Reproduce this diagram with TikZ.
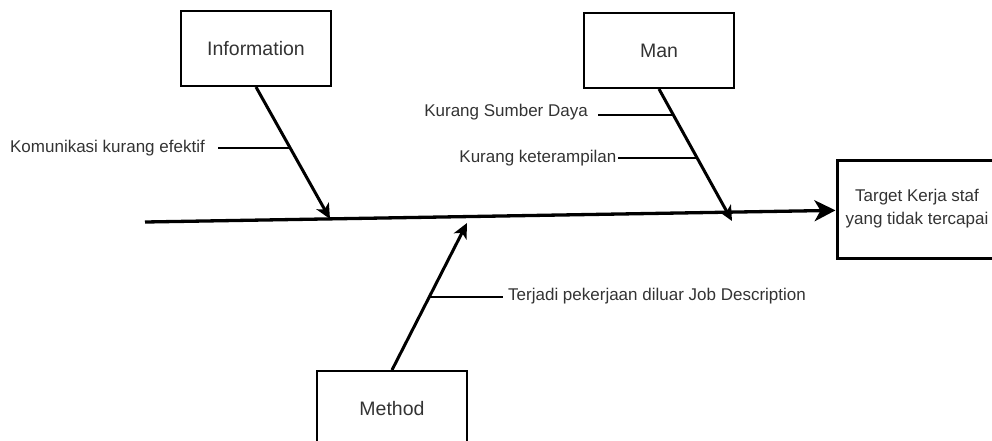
\documentclass[tikz,border=0pt]{standalone}
\usepackage{fontspec}
\setmainfont{Liberation Sans}
\usepackage{tikz}
\usetikzlibrary{positioning}
\usetikzlibrary{arrows.meta}
\definecolor{ink}{HTML}{333333}

\begin{document}
\begin{tikzpicture}[x=1pt,y=-1pt,
  bone/.style={draw,line width=2pt,minimum width=150pt,minimum height=75pt,
    inner sep=0pt,text=ink,font=\fontsize{19.5}{23}\selectfont},
  lbl/.style={inner ysep=0pt,inner xsep=5pt,text=ink,font=\fontsize{17}{20}\selectfont},
  spine/.style={line width=3.3pt,-{Stealth[length=21pt,width=21pt,inset=6pt]}},
  cause/.style={line width=3pt,-{Stealth[length=15pt,width=14pt,inset=4pt]}},
  twig/.style={line width=1.6pt}]
\clip (0,0) rectangle (992,440);
\node[bone] (info) at (256,48.5) {Information};
\node[bone] (man) at (659,50.5) {Man};
\node[bone] (method) at (392,408.5) {Method};
\node[bone,line width=3pt,minimum width=160pt,minimum height=98pt,align=center,
  font=\fontsize{17}{23}\selectfont] (target) at (917,209)
  {Target Kerja staf\\yang tidak tercapai};
\coordinate (tail) at (145,222);
\coordinate (infoHead) at (330,219);
\coordinate (manHead) at (732,221);
\coordinate (methodHead) at (467,223);
\coordinate (komHit) at (290.5,148);
\coordinate (sdHit) at (674,115);
\coordinate (ketHit) at (697,158);
\coordinate (jdHit) at (430,297);
\node[lbl,inner xsep=13pt,anchor=east] (kom) at (218,148) {Komunikasi kurang efektif};
\node[lbl,inner xsep=10pt,anchor=east] (sd) at (598,112) {Kurang Sumber Daya};
\node[lbl,inner xsep=1.5pt,anchor=east] (ket) at (618,158.5) {Kurang keterampilan};
\node[lbl,anchor=west] (jd) at (503,296.5) {Terjadi pekerjaan diluar Job Description};
\draw[spine] (tail) -- (target);
\path[cause]
  (info.south) edge (infoHead)
  (man.south) edge (manHead)
  (method.north) edge (methodHead);
\draw[twig] (komHit) -- (komHit -| kom.east);
\draw[twig] (sdHit) -- (sdHit -| sd.east);
\draw[twig] (ketHit) -- (ketHit -| ket.east);
\draw[twig] (jdHit) -- (jdHit -| jd.west);
\end{tikzpicture}
\end{document}
